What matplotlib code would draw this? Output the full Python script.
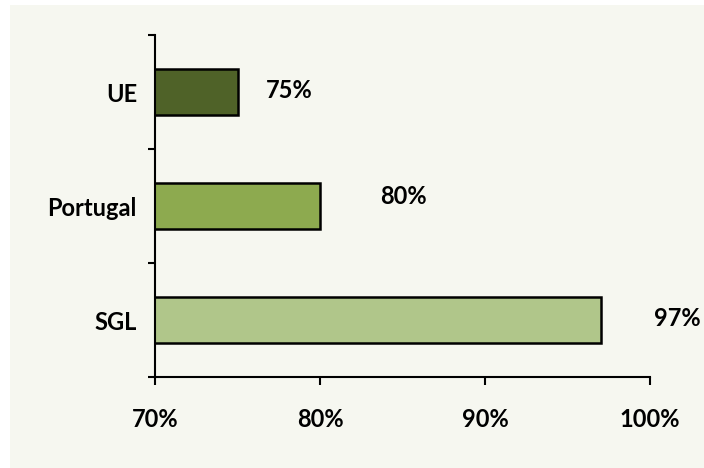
import matplotlib.pyplot as plt
from matplotlib.patches import Rectangle
from matplotlib.ticker import FuncFormatter

categories = ["SGL", "Portugal", "UE"]
values = [97, 80, 75]
bar_colors = ["#B0C68A", "#8DAA4F", "#4F6228"]
value_labels = ["97%", "80%", "75%"]
x_ticks = [70, 80, 90, 100]

# label offsets from bar end (points)
label_offsets = [(55, 1), (60, 7), (37, 1)]

bg = "#F6F7F0"
plt.rcParams["font.family"] = ["Lato", "DejaVu Sans"]
plt.rcParams["font.weight"] = "bold"

fig = plt.figure(figsize=(7.04, 4.68), dpi=100)
fig.patches.append(Rectangle((10 / 704, 0), 1, 463 / 468, transform=fig.transFigure,
                             facecolor=bg, edgecolor="none", zorder=-1))
ax = fig.add_axes([155 / 704, 91 / 468, 495 / 704, 342 / 468])
ax.set_facecolor(bg)

pos = list(range(len(categories)))
ax.barh(pos, values, height=0.4, color=bar_colors, edgecolor="black", linewidth=1.8)
for i, (v, lab, off) in enumerate(zip(values, value_labels, label_offsets)):
    ax.annotate(lab, xy=(v, i), xytext=off, textcoords="offset points",
                ha="center", va="center", fontsize=17, fontweight="bold",
                annotation_clip=False)

ax.set_xlim(70, 100)
ax.set_ylim(-0.5, 2.5)
ax.set_xticks(x_ticks)
ax.xaxis.set_major_formatter(FuncFormatter(lambda x, p: f"{x:.0f}%"))
ax.tick_params(axis="x", length=6, width=1.5, pad=16, labelsize=17)

ax.set_yticks([-0.5, 0.5, 1.5, 2.5])
ax.set_yticklabels([])
ax.set_yticks(pos, minor=True)
ax.set_yticklabels(categories, minor=True)
ax.tick_params(axis="y", which="major", length=5, width=1.5)
ax.tick_params(axis="y", which="minor", length=0, pad=13, labelsize=17)

for s in ["top", "right"]:
    ax.spines[s].set_visible(False)
for s in ["left", "bottom"]:
    ax.spines[s].set_linewidth(1.5)

fig.savefig("out.png", dpi=100, facecolor="white")
